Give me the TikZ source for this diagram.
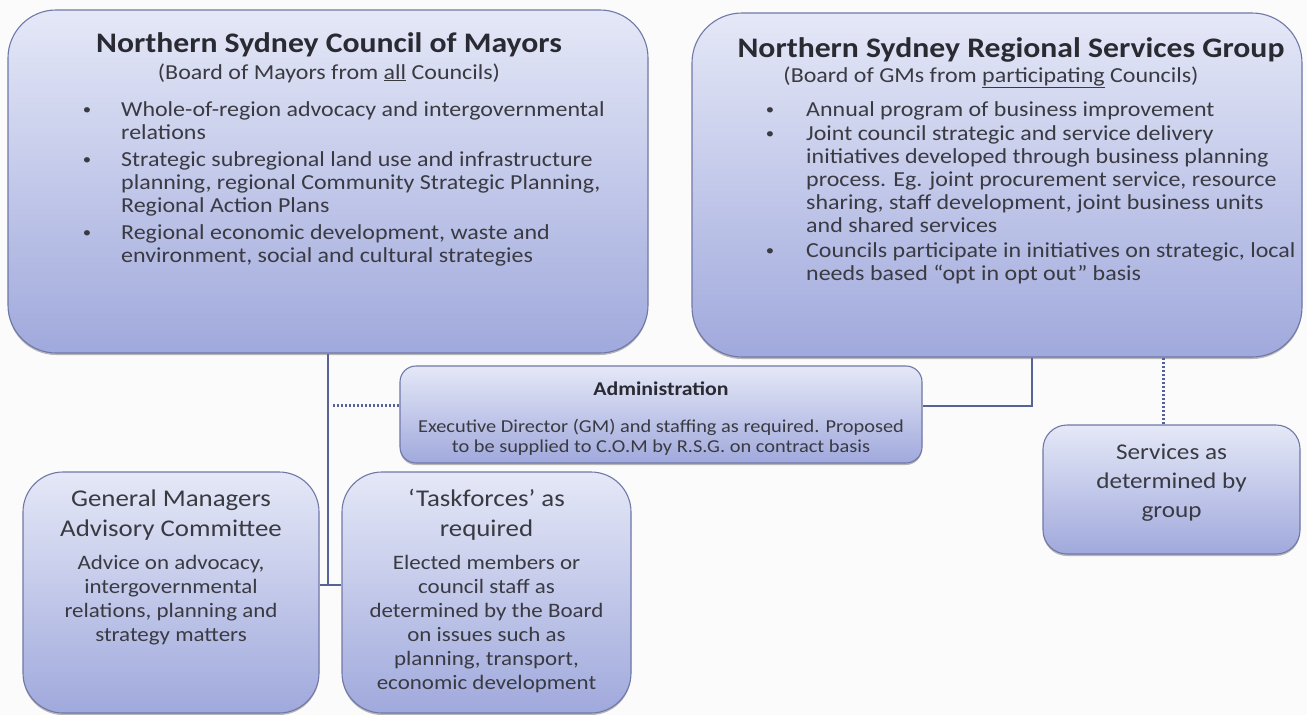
\documentclass[tikz,border=0pt]{standalone}
\usepackage{fontspec}
\setmainfont{Carlito}[FakeStretch=1.12]
\usetikzlibrary{shadows}
\definecolor{txtdark}{RGB}{42,42,50}
\definecolor{txtbody}{RGB}{58,58,66}
\definecolor{boxtop}{RGB}{229,232,247}
\definecolor{boxbot}{RGB}{160,169,220}
\definecolor{boxedge}{RGB}{112,120,168}
\definecolor{connclr}{RGB}{88,98,152}
\definecolor{bgclr}{RGB}{251,251,251}
\newcommand{\nsTitle}{\fontsize{28.3}{30}\selectfont\bfseries}
\newcommand{\nsBody}{\fontsize{21.4}{23}\selectfont}
\newcommand{\nsBul}{\fontsize{15}{18}\selectfont}
\newcommand{\nsAdmT}{\fontsize{19.5}{22}\selectfont\bfseries}
\newcommand{\nsAdmB}{\fontsize{18.2}{20}\selectfont}
\newcommand{\nsSvc}{\fontsize{22.5}{29}\selectfont}
\newcommand{\nsGmT}{\fontsize{24}{30}\selectfont}
\newcommand{\nsGmB}{\fontsize{20.5}{24}\selectfont}
\tikzset{
  orgbox/.style={draw=boxedge, line width=1.1pt, top color=boxtop, bottom color=boxbot,
    drop shadow={shadow xshift=0pt, shadow yshift=-2pt, fill=black!55, opacity=0.5},
    inner sep=0pt, rectangle},
  link/.style={draw=connclr, line width=2.8pt},
  dotlink/.style={draw=connclr, line width=3pt, dash pattern=on 2pt off 2pt},
  tline/.style={text=txtbody, inner sep=0pt, anchor=base},
  lline/.style={text=txtbody, inner sep=0pt, anchor=base west},
  hline/.style={text=txtdark, inner sep=0pt, anchor=base},
}
\begin{document}
\begin{tikzpicture}[x=1pt,y=-1pt]
\useasboundingbox (0,0) rectangle (1307,715);
\fill[bgclr] (0,0) rectangle (1307,715);

% connector helper coordinates
\coordinate (j1) at (328,585);
\coordinate (d1) at (333,405);
\coordinate (r1) at (1032,406);
\coordinate (s1) at (1163,406);

% boxes
\node[orgbox, rounded corners=48pt, minimum width=640pt, minimum height=343pt] (com) at (328,181.5) {};
\node[orgbox, rounded corners=50pt, minimum width=610pt, minimum height=344pt] (rsg) at (997,185) {};
\node[orgbox, rounded corners=16pt, minimum width=522pt, minimum height=97pt] (adm) at (661,414.5) {};
\node[orgbox, rounded corners=24pt, minimum width=257pt, minimum height=129pt] (svc) at (1171.5,489.5) {};
\node[orgbox, rounded corners=40pt, minimum width=296pt, minimum height=241pt] (gm) at (171,592.5) {};
\node[orgbox, rounded corners=40pt, minimum width=289pt, minimum height=241pt] (task) at (486.5,592.5) {};

% connectors
\draw[link] (com.south) -- (j1);
\draw[link] (gm.east |- j1) -- (task.west |- j1);
\draw[dotlink] (d1) -- (adm.west |- d1);
\draw[link] (r1 |- rsg.south) -- (r1) -- (adm.east |- r1);
\draw[dotlink] (s1 |- rsg.south) -- (s1 |- svc.north);

% Council of Mayors
\node[hline, font=\nsTitle] (comT) at (329,52) {Northern Sydney Council of Mayors};
\node[tline, font=\nsBody] (comS) at (329,79) {(Board of Mayors from \underline{all} Councils)};
\node[tline, font=\nsBul] (comB1) at (87,114) {•};
\node[tline, font=\nsBul] (comB2) at (87,164) {•};
\node[tline, font=\nsBul] (comB3) at (87,237) {•};
\node[lline, font=\nsBody] (comL1) at (121,116) {Whole-of-region advocacy and intergovernmental};
\node[lline, font=\nsBody] (comL2) at (121,139) {relations};
\node[lline, font=\nsBody] (comL3) at (121,166) {Strategic subregional land use and infrastructure};
\node[lline, font=\nsBody] (comL4) at (121,189) {planning, regional Community Strategic Planning,};
\node[lline, font=\nsBody] (comL5) at (121,212) {Regional Action Plans};
\node[lline, font=\nsBody] (comL6) at (121,239) {Regional economic development, waste and};
\node[lline, font=\nsBody] (comL7) at (121,262) {environment, social and cultural strategies};

% Regional Services Group
\node[hline, font=\nsTitle] (rsgT) at (1011,57) {Northern Sydney Regional Services Group};
\node[tline, font=\nsBody] (rsgS) at (991,82) {(Board of GMs from \underline{participating} Councils)};
\node[tline, font=\nsBul] (rsgB1) at (770,114) {•};
\node[tline, font=\nsBul] (rsgB2) at (770,138) {•};
\node[tline, font=\nsBul] (rsgB3) at (770,255) {•};
\node[lline, font=\nsBody] (rsgL1) at (806,116) {Annual program of business improvement};
\node[lline, font=\nsBody] (rsgL2) at (806,140) {Joint council strategic and service delivery};
\node[lline, font=\nsBody] (rsgL3) at (806,163) {initiatives developed through business planning};
\node[lline, font=\nsBody] (rsgL4) at (806,186) {process. Eg. joint procurement service, resource};
\node[lline, font=\nsBody] (rsgL5) at (806,209) {sharing, staff development, joint business units};
\node[lline, font=\nsBody] (rsgL6) at (806,232) {and shared services};
\node[lline, font=\nsBody] (rsgL7) at (806,257) {Councils participate in initiatives on strategic, local};
\node[lline, font=\nsBody] (rsgL8) at (806,280) {needs based “opt in opt out” basis};

% Administration
\node[hline, font=\nsAdmT] (admT) at (661,395) {Administration};
\node[tline, font=\nsAdmB] (admL1) at (661,432) {Executive Director (GM) and staffing as required. Proposed};
\node[tline, font=\nsAdmB] (admL2) at (661,452) {to be supplied to C.O.M by R.S.G. on contract basis};

% Services
\node[tline, font=\nsSvc] (svcL1) at (1171.5,459) {Services as};
\node[tline, font=\nsSvc] (svcL2) at (1171.5,488) {determined by};
\node[tline, font=\nsSvc] (svcL3) at (1171.5,517) {group};

% General Managers Advisory Committee
\node[tline, font=\nsGmT] (gmT1) at (171,506) {General Managers};
\node[tline, font=\nsGmT] (gmT2) at (171,536) {Advisory Committee};
\node[tline, font=\nsGmB] (gmL1) at (171,569) {Advice on advocacy,};
\node[tline, font=\nsGmB] (gmL2) at (171,593) {intergovernmental};
\node[tline, font=\nsGmB] (gmL3) at (171,617) {relations, planning and};
\node[tline, font=\nsGmB] (gmL4) at (171,641) {strategy matters};

% Taskforces
\node[tline, font=\nsGmT] (taskT1) at (486.5,506) {‘Taskforces’ as};
\node[tline, font=\nsGmT] (taskT2) at (486.5,536) {required};
\node[tline, font=\nsGmB] (taskL1) at (486.5,569) {Elected members or};
\node[tline, font=\nsGmB] (taskL2) at (486.5,593) {council staff as};
\node[tline, font=\nsGmB] (taskL3) at (486.5,617) {determined by the Board};
\node[tline, font=\nsGmB] (taskL4) at (486.5,641) {on issues such as};
\node[tline, font=\nsGmB] (taskL5) at (486.5,665) {planning, transport,};
\node[tline, font=\nsGmB] (taskL6) at (486.5,689) {economic development};
\end{tikzpicture}
\end{document}
